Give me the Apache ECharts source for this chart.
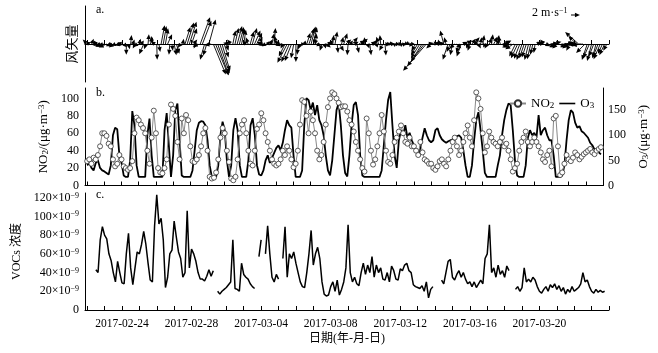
<!DOCTYPE html>
<html><head><meta charset="utf-8">
<script src="https://cdn.jsdelivr.net/npm/echarts@6/dist/echarts.min.js"></script>
<style>html,body{margin:0;padding:0;background:#fff}#c{width:658px;height:353px}</style>
</head><body><div id="c"></div>
<script>
// ---------- DATA ----------
// time axis: 3-hourly categories from 2017-02-21 21:00 to 2017-03-24 00:00
const AXIS_START_UTC = Date.UTC(2017, 1, 21, 21);
const STEP_HOURS = 3;
const N_CAT = 242;
// series values: 3-hourly from 2017-02-22 00:00 (240 values)
const o3 = [
 40,45,35,30,45,50,35,30,
 28,25,22,40,100,115,112,60,
 45,20,17,17,50,148,120,40,
 17,17,17,17,100,133,60,17,
 17,17,17,17,110,144,80,17,
 60,150,163,90,20,17,17,17,
 17,30,70,110,125,128,127,120,
 90,40,17,17,17,40,100,127,
 110,50,17,40,110,134,110,40,
 17,17,17,50,120,134,100,40,
 22,20,30,50,60,45,55,65,
 75,80,70,85,110,130,120,115,
 60,17,17,17,30,120,174,170,
 150,165,140,160,130,120,100,60,
 30,20,50,100,150,164,120,60,
 25,18,60,120,160,166,140,60,
 20,17,17,17,17,17,17,17,
 17,30,80,130,170,186,120,60,
 35,90,110,100,120,95,105,90,
 80,70,60,75,95,114,100,90,
 86,90,110,114,100,92,88,85,
 88,90,92,95,98,100,95,70,
 40,17,17,40,90,130,146,110,
 70,25,17,17,17,17,17,40,
 60,100,130,150,163,160,110,50,
 20,17,17,17,40,95,110,100,
 105,95,140,100,110,115,100,90,
 90,60,17,17,17,20,40,90,
 130,150,145,125,115,118,108,105,
 100,95,85,80,72,70,66,62
];
const no2 = [
 28,30,25,32,30,35,45,60,
 60,57,48,45,30,22,25,35,
 30,22,20,18,20,28,60,78,
 75,70,66,60,40,25,55,86,
 60,20,15,14,20,30,70,93,
 88,80,50,30,77,60,81,75,
 45,28,27,30,35,45,60,66,
 40,10,8,9,15,30,55,66,
 60,40,27,8,6,10,30,60,
 70,75,60,40,25,23,40,65,
 70,83,75,60,50,40,30,25,
 23,25,30,40,35,45,40,30,
 21,25,40,70,98,96,80,60,
 85,75,60,40,30,35,50,70,
 90,100,107,105,100,95,90,91,
 91,85,75,70,62,50,40,30,
 20,16,77,60,40,24,30,45,
 60,81,62,40,27,25,35,50,
 55,62,69,60,50,48,55,45,
 45,40,35,50,38,30,28,25,
 25,20,18,22,28,30,25,22,
 30,40,50,55,45,35,40,50,
 60,69,55,45,75,107,100,88,
 60,38,45,62,55,50,48,45,
 50,55,45,48,40,30,16,20,
 25,40,50,55,62,50,45,50,
 55,50,45,38,30,27,35,40,
 22,77,80,45,12,15,25,35,
 30,28,32,38,35,30,33,36,
 38,40,42,38,36,40,42,44
];
// VOCs in units of 1e-9
const vocs = [
 null,null,null,null,
 43,40,75,89,80,76,60,53,
 40,30,52,40,29,28,60,82,
 45,27,45,62,60,70,84,70,
 50,32,30,90,123,92,98,75,
 24,35,60,64,95,78,62,55,
 35,40,106,45,65,60,52,40,
 33,33,31,36,43,36,42,null,
 20,17,20,22,24,27,30,75,
 23,22,20,50,38,35,33,28,
 25,23,null,57,75,null,60,90,
 60,35,30,38,33,null,55,89,
 35,60,55,62,50,40,30,25,
 24,40,60,85,48,60,67,55,
 30,17,15,16,25,30,20,32,
 16,22,30,45,91,40,30,35,
 28,26,40,50,38,48,40,57,
 35,48,40,45,33,32,40,30,
 47,42,33,32,44,42,48,50,
 42,40,27,25,24,23,26,20,
 30,13,22,25,null,null,null,32,
 28,40,52,54,35,32,38,42,
 35,40,33,28,30,25,30,24,
 28,32,28,55,60,91,40,45,
 35,48,38,42,35,47,42,null,
 null,22,25,20,24,45,30,33,
 30,35,32,25,20,18,22,25,
 20,27,24,28,22,26,20,24,
 17,22,19,25,20,22,24,28,
 40,30,32,25,20,18,22,19,
 21,19,20,null
];
// wind vectors, 3-hourly from 2017-02-22 00:00 (m/s)
const windU = [
 -1,-0.6,0.5,0.8,-0.5,-1.2,-1,-1.6,
 -1.5,-1.8,1,-1.2,-1,-0.8,0.5,-1,
 -1.2,0.6,0,0.3,0.2,0.4,-0.5,-0.8,
 0.3,0.5,-1,-0.4,0.2,0.6,-0.3,-0.8,
 0.1,0.3,0.8,0.7,0.6,1.0,-0.2,0.2,
 0.5,0.7,-0.3,-0.6,0.2,1.2,1.5,1.6,
 1.2,0.8,-0.5,-1.2,2.2,2.0,-1.0,-0.8,
 1.5,-1.5,2.8,2.9,2.5,2.2,1.8,1.0,
 0.5,-1.2,-0.8,0.6,0.8,1.1,1.0,0.7,
 0.5,-0.8,-0.5,0.8,1.0,1.3,1.2,0.8,
 -1,-1.2,-0.8,0.4,0.6,0.5,0.3,-0.4,
 -1,-1.2,-0.5,-1.4,-2.2,-1.8,-1.5,-0.6,
 0,-0.2,-0.5,-0.3,0.2,0.8,1.2,1.0,
 0.8,0.2,-1.0,-0.8,-0.5,0.4,1,0.8,
 0.5,0.2,0.5,0.2,1.0,0.4,0.8,1.2,
 -0.2,0.6,1.2,0.9,0.5,1.4,1.5,0.2,
 -0.3,0.4,0.3,1.0,0.8,0.3,-0.5,-0.2,
 -0.8,0.2,0.4,0.3,0.3,0.2,0.2,0.3,
 0.4,0.2,0.3,0.3,0.2,-0.4,0.3,-0.9,
 -1.5,-2.0,-2.5,-3.8,-5.2,1.2,-1.0,1.4,
 1.8,1.0,-0.3,-0.2,-0.8,-0.4,-1.2,-0.8,
 -0.5,-1.2,1.0,-0.6,-1.0,1.0,1.5,-0.3,
 -0.5,0.8,1.2,-0.2,0.5,0.2,0.3,-0.4,
 -0.6,0.5,0.3,0.8,1.0,0.2,-0.5,1.8,
 1.5,-1.0,-1.5,-2.0,-1.8,-1.4,-1.5,-1.3,
 -1.2,-1.1,-1.0,-0.9,-0.8,-0.6,-0.3,0.8,
 1.2,-1.0,-0.8,1.0,1.5,1.8,2.0,-0.8,
 -1.0,1.5,1.8,2.2,2.0,-1.2,-0.8,1.0,
 0.5,-1.8,-3.0,-2.8,-2.5,-2.0,-1.2,-1.4,
 -1.0,-1.1,-0.8,-1.2,-1.5,-1.0,-1.2,-0.8
];
const windV = [
 1,0.5,1.2,0.4,0.8,-0.3,-0.5,-0.6,
 -0.3,-0.8,-0.5,-0.5,-0.8,-0.4,-0.5,-0.3,
 0.2,-0.7,-2.4,-1.2,2,1.0,-1,-0.6,
 1.2,0.8,-2.3,-1.2,2.2,1.5,1.8,0.6,
 -3.5,-1.8,4.2,4.0,3.5,2.2,-2.4,-1.5,
 -2.5,-2.2,-2.2,-0.8,1.2,3.8,4.8,5.0,
 3.5,1.0,-1,-0.6,6.0,5.2,-3.5,-2.6,
 5.5,-0.3,-6.8,-7.0,-7.0,-6.6,-6.0,-3.0,
 -1.5,0.3,1.0,3.0,3.6,4.0,3.8,3.4,
 3.2,0.8,1.5,2.8,3.6,3.0,2.5,1.6,
 0.5,-0.2,-0.5,0.6,1.0,2.4,3.6,1.8,
 0.8,-0.4,-1.0,-2.8,-4.2,-4.0,-3.8,-3.2,
 -4.0,-2.4,-1.2,0.4,0.8,2.5,3.5,3.9,
 3.8,2.4,1.2,-0.5,-1.5,-1.0,-0.8,0.6,
 1.0,2.0,2.8,-2.0,-1.6,1.6,2.4,1.0,
 -2.5,0.8,1.5,0.5,-2.0,0.8,1.2,0.6,
 1.5,-1.0,-2.5,0.5,1.0,-0.8,1.6,2.0,
 -1.5,-2.6,0.1,0,-0.1,0,0.1,0,
 0,0.1,0.1,-0.1,-0.1,-0.6,0,-1.6,
 -2.5,-3.2,-4.0,-5.0,-6.0,0.2,-1.0,0.3,
 0.3,0.4,1.0,-0.4,3.0,1.5,-3.5,-1.8,
 -2.5,-1.0,-1.0,-2.0,-2.8,0.5,0.8,-1.0,
 -1.5,1.2,1.5,0.8,-1.0,1.5,2.0,-0.8,
 -1.0,1.4,2.2,1.6,1.0,2.0,1.8,0.5,
 0.8,-0.2,-0.5,-0.8,-1.2,-2.8,-3.2,-3.3,
 -3.6,-3.2,-3.0,-3.6,-3.4,-2.4,-2.0,0.4,
 0.6,0.5,1.0,-0.5,-0.8,0.2,0.5,-0.6,
 -1.0,-0.8,-0.5,0.2,0.4,-1.0,-1.5,-0.3,
 -0.5,1.8,2.7,-0.2,-0.3,-2.0,-3.6,-3.2,
 -3.8,-2.8,-3.2,-3.0,-3.4,-2.2,-2.5,-1.5
];
const WIND_REF = 2; // m/s key arrow
// tick labels (every 4 days, 2017-02-24 .. 2017-03-20)
const FIRST_LABEL_CAT = 17;   // 2017-02-24 00:00
const LAST_LABEL_CAT = 209;   // 2017-03-20 00:00
const LABEL_EVERY = 32;       // 4 days
const TICK_EVERY = 8;         // 1 day

// ---------- BUILD ----------
const categories = [];
for (let c = 0; c < N_CAT; c++) {
  const d = new Date(AXIS_START_UTC + c * STEP_HOURS * 3600e3);
  categories.push(d.toISOString().slice(0, 13).replace('T', ' '));
}
const shift = a => [null].concat(a);
const windData = windU.map((u, i) => [i + 1, u, windV[i]]);

const FONT = "'Liberation Serif','Noto Sans CJK SC',serif";
const G = { left: 85, right: 49 };
const GA = { top: 6, height: 76 }, GB = { top: 88, height: 97.5 }, GC = { top: 193, height: 117 };
const WIND_MAX = 8.5;

function xAx(gi, showLabel) {
  return {
    type: 'category', gridIndex: gi, data: categories, boundaryGap: false,
    axisLine: { lineStyle: { color: '#000', width: 1 } },
    axisTick: { inside: true, length: 4, interval: (i) => (i - 1) % TICK_EVERY === 0, lineStyle: { color: '#000' } },
    axisLabel: showLabel ? {
      interval: (i) => i >= FIRST_LABEL_CAT && i <= LAST_LABEL_CAT && (i - FIRST_LABEL_CAT) % LABEL_EVERY === 0,
      formatter: v => v.slice(0, 10), color: '#000', fontFamily: FONT, fontSize: 11.5, margin: 8
    } : { show: false },
    splitLine: { show: false },
    name: showLabel ? '日期(年-月-日)' : '', nameLocation: 'middle', nameGap: 23,
    nameTextStyle: { fontFamily: FONT, fontSize: 12, color: '#000' }
  };
}
const axLine = { lineStyle: { color: '#000', width: 1 } };
const axTick = { inside: true, length: 4, lineStyle: { color: '#000' } };
const supRich = {
  n: { fontFamily: FONT, fontSize: 12, color: '#000' },
  u: { fontFamily: FONT, fontSize: 8, color: '#000', verticalAlign: 'top' }
};
const nameRich = {
  u: { fontFamily: FONT, fontSize: 9, color: '#000', verticalAlign: 'top' },
  s: { fontFamily: FONT, fontSize: 9, color: '#000', verticalAlign: 'bottom' }
};

function renderArrow(params, api) {
  const c = api.value(0), u = api.value(1), v = api.value(2);
  const base = api.coord([c, 0]);
  const k = api.size([0, 1])[1];
  const dx = u * k, dy = -v * k;
  const len = Math.hypot(dx, dy) || 0.001;
  const ux = dx / len, uy = dy / len;
  const tip = [base[0] + dx, base[1] + dy];
  const hl = Math.min(5, Math.max(len, 3.5)), hw = 2.2;
  const bx = tip[0] - ux * hl, by = tip[1] - uy * hl;
  return {
    type: 'group', children: [
      { type: 'line', shape: { x1: base[0], y1: base[1], x2: bx, y2: by }, style: { stroke: '#000', lineWidth: 0.9 } },
      { type: 'polygon', shape: { points: [tip, [bx - uy * hw, by + ux * hw], [bx + uy * hw, by - ux * hw]] }, style: { fill: '#000' } }
    ]
  };
}

const kPx = GA.height / (2 * WIND_MAX);
const keyX = 571, keyY = 15, keyLen = WIND_REF * kPx;

const option = {
  animation: false,
  backgroundColor: '#fff',
  grid: [
    { left: G.left, right: G.right, top: GA.top, height: GA.height },
    { left: G.left, right: G.right, top: GB.top, height: GB.height },
    { left: G.left, right: G.right, top: GC.top, height: GC.height }
  ],
  xAxis: [xAx(0, false), xAx(1, false), xAx(2, true)],
  yAxis: [
    { type: 'value', gridIndex: 0, min: -WIND_MAX, max: WIND_MAX, interval: 2 * WIND_MAX,
      axisLine: Object.assign({ show: true }, axLine), axisTick: axTick, axisLabel: { show: false }, splitLine: { show: false },
      name: '风矢量', nameLocation: 'middle', nameRotate: 90, nameGap: 6,
      nameTextStyle: { fontFamily: FONT, fontSize: 13, color: '#000' } },
    { type: 'value', gridIndex: 1, min: 0, max: 112, interval: 20,
      axisLine: Object.assign({ show: true }, axLine), axisTick: axTick, splitLine: { show: false },
      axisLabel: { formatter: v => (v % 20 === 0 ? String(v) : ''), color: '#000', fontFamily: FONT, fontSize: 12, margin: 6 },
      name: 'NO{s|2}/(μg·m{u|−3})', nameLocation: 'middle', nameRotate: 90, nameGap: 34,
      nameTextStyle: { fontFamily: FONT, fontSize: 13, color: '#000', rich: nameRich } },
    { type: 'value', gridIndex: 1, position: 'right', min: 0, max: 194, interval: 50,
      axisLine: Object.assign({ show: true }, axLine), axisTick: axTick, splitLine: { show: false },
      axisLabel: { formatter: v => (v % 50 === 0 ? String(v) : ''), color: '#000', fontFamily: FONT, fontSize: 12, margin: 5 },
      name: 'O{s|3}/(μg·m{u|−3})', nameLocation: 'middle', nameRotate: 90, nameGap: 27,
      nameTextStyle: { fontFamily: FONT, fontSize: 13, color: '#000', rich: nameRich } },
    { type: 'value', gridIndex: 2, min: 0, max: 125, interval: 20,
      axisLine: Object.assign({ show: true }, axLine), axisTick: axTick, splitLine: { show: false },
      axisLabel: { formatter: v => (v === 0 ? '{n|0}' : (v % 20 === 0 ? '{n|' + v + '×10}{u|−9}' : '')), rich: supRich, margin: 6 },
      name: 'VOCs 浓度', nameLocation: 'middle', nameRotate: 90, nameGap: 61,
      nameTextStyle: { fontFamily: FONT, fontSize: 12, color: '#000' } }
  ],
  legend: {
    left: 504, top: 92, itemWidth: 16, itemHeight: 8, itemGap: 5,
    data: [
      { name: 'NO2' },
      { name: 'O3', icon: 'path://M0,0H20V2H0Z', itemStyle: { color: '#000' } }
    ],
    formatter: n => n === 'NO2' ? 'NO{s|2}' : 'O{s|3}',
    textStyle: { fontFamily: FONT, fontSize: 13, color: '#000', rich: nameRich }
  },
  series: [
    { type: 'custom', name: 'wind', xAxisIndex: 0, yAxisIndex: 0, data: windData,
      encode: { x: 0, y: 2 }, renderItem: renderArrow, z: 3,
      markLine: { silent: true, symbol: 'none', label: { show: false },
        lineStyle: { color: '#000', width: 1, type: 'solid' }, data: [{ yAxis: 0 }] } },
    { type: 'line', name: 'O3', xAxisIndex: 1, yAxisIndex: 2, data: shift(o3),
      symbol: 'none', lineStyle: { color: '#000', width: 1.8 }, itemStyle: { color: '#000' }, z: 2 },
    { type: 'line', name: 'NO2', xAxisIndex: 1, yAxisIndex: 1, data: shift(no2),
      symbol: 'circle', symbolSize: 5, showAllSymbol: true,
      lineStyle: { color: '#888', width: 1 },
      itemStyle: { color: '#fff', borderColor: '#333', borderWidth: 0.8 }, z: 3 },
    { type: 'line', name: 'VOCs', xAxisIndex: 2, yAxisIndex: 3, data: shift(vocs),
      symbol: 'none', connectNulls: false, lineStyle: { color: '#000', width: 1.5 } }
  ],
  graphic: [
    { type: 'text', left: 96, top: 4, style: { text: 'a.', font: '12px ' + FONT, fill: '#000' } },
    { type: 'text', left: 96, top: 87, style: { text: 'b.', font: '12px ' + FONT, fill: '#000' } },
    { type: 'text', left: 96, top: 189, style: { text: 'c.', font: '12px ' + FONT, fill: '#000' } },
    { type: 'text', left: 532, top: 7, style: { text: '2 m·s{u|−1}', font: '12px ' + FONT, fill: '#000',
        rich: { u: { fontFamily: FONT, fontSize: 8, verticalAlign: 'top' } } } },
    { type: 'line', shape: { x1: keyX, y1: keyY, x2: keyX + keyLen - 4, y2: keyY }, style: { stroke: '#000', lineWidth: 1 } },
    { type: 'polygon', shape: { points: [[keyX + keyLen, keyY], [keyX + keyLen - 5, keyY - 2.2], [keyX + keyLen - 5, keyY + 2.2]] }, style: { fill: '#000' } }
  ]
};
const chart = echarts.init(document.getElementById('c'), null, { renderer: 'canvas' });
chart.setOption(option);
</script>
</body></html>
